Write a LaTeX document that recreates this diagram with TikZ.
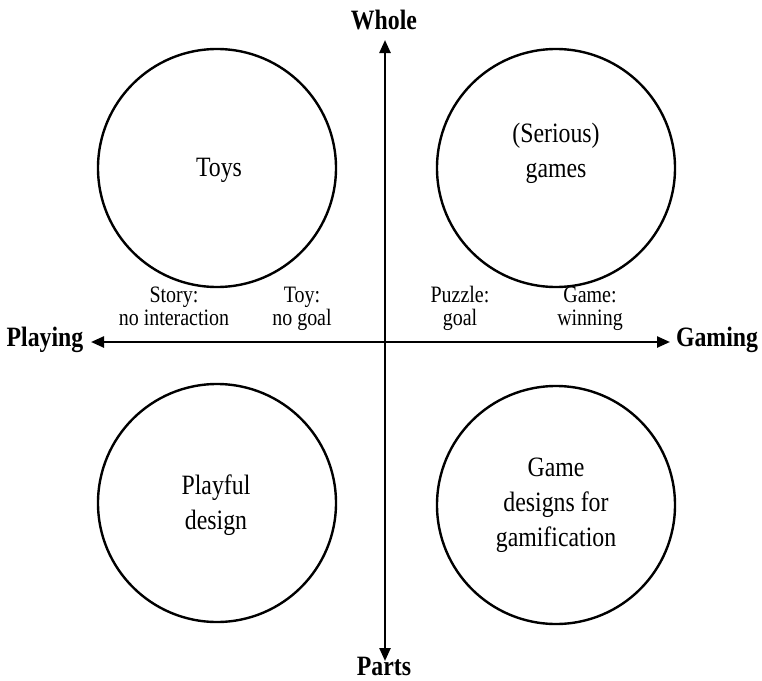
\documentclass[tikz,border=0pt]{standalone}
\usepackage{fontspec}
\setmainfont{Liberation Serif}[FakeStretch=0.85]
\usetikzlibrary{arrows.meta}
\begin{document}
\begin{tikzpicture}[x=1pt,y=-1pt,
  ring/.style={draw=black,line width=2.4pt,circle,minimum size=238pt,inner sep=0pt},
  ctext/.style={align=center,font=\fontsize{28}{35}\selectfont},
  small/.style={align=center,anchor=base,font=\fontsize{23.5}{23}\selectfont},
  axlabel/.style={font=\fontsize{28}{30}\selectfont\bfseries},
  axis/.style={line width=2.4pt,-{Triangle[length=13pt,width=11pt]}}]
\useasboundingbox (0,0) rectangle (762,680);
% circles
\node[ring] (tl) at (217,168) {};
\node[ring] (tr) at (556,168) {};
\node[ring] (bl) at (217,503) {};
\node[ring] (br) at (556,505) {};
% circle texts
\node[ctext] (toys) at (219,170) {Toys};
\node[ctext] (serious) at (556,153) {(Serious)\\games};
\node[ctext] (playful) at (216,505) {Playful\\design};
\node[ctext] (gamedes) at (556,505) {Game\\designs for\\gamification};
% axes
\coordinate (c) at (385,342);
\coordinate (top) at (385,40);
\coordinate (bot) at (385,661);
\coordinate (lft) at (91,342);
\coordinate (rgt) at (670,342);
\draw[axis] (c) -- (top);
\draw[axis] (c) -- (bot);
\draw[axis] (c) -- (lft);
\draw[axis] (c) -- (rgt);
% axis labels
\node[axlabel] (whole) at (384,20) {Whole};
\node[axlabel] (parts) at (384,666) {Parts};
\node[axlabel] (playing) at (45,340) {Playing};
\node[axlabel] (gaming) at (717,340) {Gaming};
% small labels
\node[small] (story) at (174,325) {Story:\\no interaction};
\node[small] (toy) at (302,325) {Toy:\\no goal};
\node[small] (puzzle) at (460,325) {Puzzle:\\goal};
\node[small] (game) at (590,325) {Game:\\winning};
\end{tikzpicture}
\end{document}
